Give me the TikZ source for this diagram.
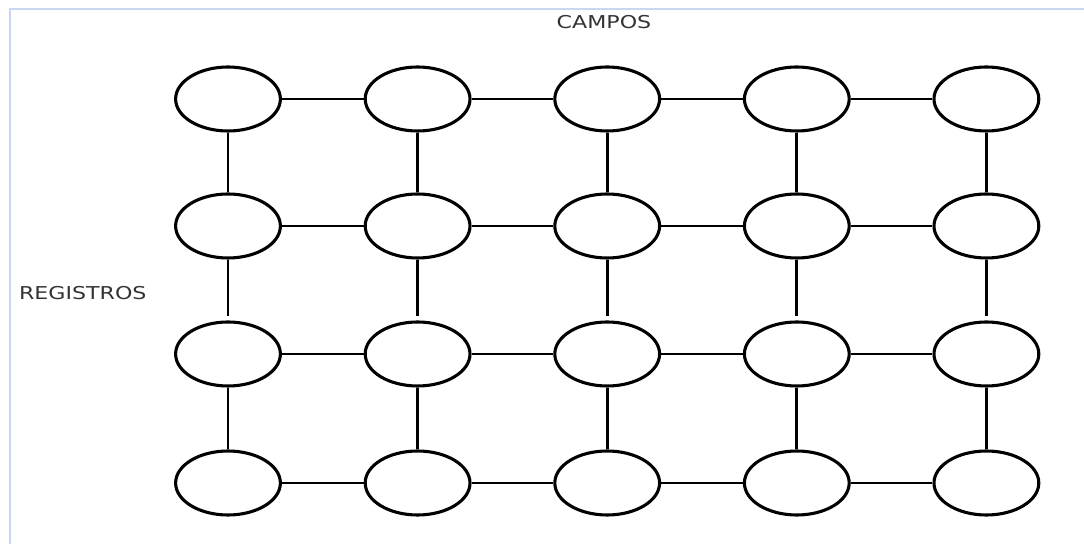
\documentclass[tikz,border=0pt]{standalone}
\usepackage{fontspec}
\setmainfont{DejaVu Sans}
\usetikzlibrary{shapes.geometric}
\definecolor{marco}{RGB}{201,216,242}

\begin{document}
\begin{tikzpicture}[
        campo/.style={ellipse,draw,line width=2.2pt,minimum width=2.62cm,minimum height=1.6cm,inner sep=0pt},
        enlace/.style={line width=1.9pt},
        rotulo/.style={text=black!80,font=\fontsize{12.6}{15}\selectfont,xscale=1.25}
    ]
    \useasboundingbox (0,0) rectangle (27.1,13.6);
    \draw[marco,line width=2pt] (0.25,0) -- (0.25,13.375) -- (27.1,13.375);
    \node[rotulo] (campos) at (15.1,13.05) {CAMPOS};
    \node[rotulo,anchor=west] (registros) at (0.32,6.275) {REGISTROS};
    \foreach \f/\y in {1/11.125,2/7.95,3/4.75,4/1.525}
        \foreach \c in {1,...,5}
            \node[campo] (n\f\c) at ({5.7+4.74*(\c-1)},\y) {};
    \foreach \f in {1,...,4}
        \foreach \c/\d in {1/2,2/3,3/4,4/5}
            \draw[enlace] (n\f\c) -- (n\f\d);
    \foreach \f/\g/\s in {1/2/0pt,2/3/3pt,3/4/0pt}
        \foreach \c in {1,...,5}
            \draw[enlace,shorten >=\s] (n\f\c) -- (n\g\c);
\end{tikzpicture}
\end{document}
